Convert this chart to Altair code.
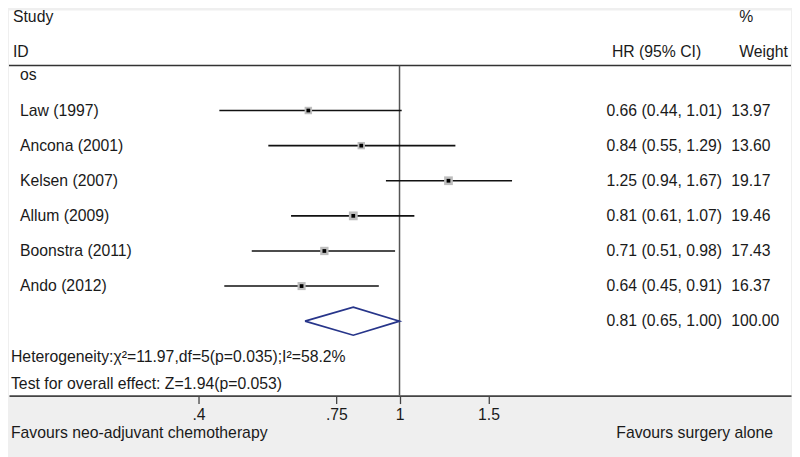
import altair as alt
import pandas as pd

# ---------------- data ----------------
studies = ["Law (1997)", "Ancona (2001)", "Kelsen (2007)", "Allum (2009)",
           "Boonstra (2011)", "Ando (2012)"]
hr = [0.66, 0.84, 1.25, 0.81, 0.71, 0.64]
ci_low = [0.44, 0.55, 0.94, 0.61, 0.51, 0.45]
ci_high = [1.01, 1.29, 1.67, 1.07, 0.98, 0.91]
weights = [13.97, 13.60, 19.17, 19.46, 17.43, 16.37]

group_label = "os"
overall_hr = 0.81
overall_low = 0.65
overall_high = 1.00
overall_weight = 100.00

heterogeneity_text = "Heterogeneity:\u03c7\u00b2=11.97,df=5(p=0.035);I\u00b2=58.2%"
overall_effect_text = "Test for overall effect: Z=1.94(p=0.053)"
left_favours = "Favours neo-adjuvant chemotherapy"
right_favours = "Favours surgery alone"

tick_values = [0.4, 0.75, 1, 1.5]
tick_labels = [".4", ".75", "1", "1.5"]
null_value = [1.0]

# ---------------- tables ----------------
study_df = pd.DataFrame({
    "study": studies, "hr": hr, "lo": ci_low, "hi": ci_high, "weight": weights,
})
study_df["row"] = range(1, len(studies) + 1)

label_df = pd.DataFrame({"label": [group_label] + studies,
                         "row": range(0, len(studies) + 1)})

overall_row = len(studies) + 1
hr_text_df = pd.DataFrame({
    "hrtext": [f"{h:.2f} ({l:.2f}, {u:.2f})" for h, l, u in zip(hr, ci_low, ci_high)]
              + [f"{overall_hr:.2f} ({overall_low:.2f}, {overall_high:.2f})"],
    "wtext": [f"{w:.2f}" for w in weights] + [f"{overall_weight:.2f}"],
    "row": list(range(1, len(studies) + 1)) + [overall_row],
})

half = 0.4
diamond_df = pd.DataFrame({
    "x": [overall_low, overall_hr, overall_high, overall_hr, overall_low],
    "row": [overall_row, overall_row - half, overall_row, overall_row + half, overall_row],
    "order": [0, 1, 2, 3, 4],
})
null_df = pd.DataFrame({"x": null_value})

# ---------------- scales ----------------
W, H = 784, 386
FONT = "Liberation Sans"
FS = 15.8
TXT = "#1a1a1a"

xscale = alt.Scale(type="log", domain=[0.1687, 5.954], nice=False)
yscale = alt.Scale(domain=[-1.8466, 9.119], reverse=True, nice=False, zero=False)

label_expr = " : ".join(
    f"datum.value == {v} ? '{t}'" for v, t in zip(tick_values[:-1], tick_labels[:-1])
) + f" : '{tick_labels[-1]}'"

xaxis = alt.Axis(values=tick_values, labelExpr=label_expr, grid=False,
                 domainColor="#444", domainWidth=1.6, tickColor="#444",
                 tickSize=8, tickWidth=1.3, labelFontSize=FS, labelFont=FONT,
                 labelColor=TXT, labelPadding=4, labelFlush=False)


def X(field):
    return alt.X(field, type="quantitative", scale=xscale, axis=xaxis, title=None)


def Y(field):
    return alt.Y(field, type="quantitative", scale=yscale, axis=None)


# ---------------- layers ----------------
base_rule_df = pd.DataFrame({"k": [0]})

top_rule = alt.Chart(base_rule_df).mark_rule(color="#333", strokeWidth=1.6).encode(
    x=alt.value(0), x2=alt.value(W), y=alt.value(55))

null_line = alt.Chart(null_df).mark_rule(color="#555", strokeWidth=1.5).encode(
    x=X("x"), y=alt.value(55), y2=alt.value(H))

ci = alt.Chart(study_df).mark_rule(color="#111", strokeWidth=1.6).encode(
    x=X("lo"), x2="hi", y=Y("row"))

boxes = alt.Chart(study_df).mark_square(color="#bdbdbd", opacity=1).encode(
    x=X("hr"), y=Y("row"),
    size=alt.Size("weight:Q", scale=alt.Scale(domain=[0, 20], range=[0, 80]), legend=None))

points = alt.Chart(study_df).mark_square(color="#000", size=14, opacity=1).encode(
    x=X("hr"), y=Y("row"))

diamond = alt.Chart(diamond_df).mark_line(color="#27358a", strokeWidth=1.7).encode(
    x=X("x"), y=Y("row"), order="order:Q")

labels = alt.Chart(label_df).mark_text(align="left", baseline="middle", font=FONT,
                                       fontSize=FS, color=TXT).encode(
    x=alt.value(11), y=Y("row"), text="label:N")

hr_texts = alt.Chart(hr_text_df).mark_text(align="left", baseline="middle", font=FONT,
                                           fontSize=FS, color=TXT).encode(
    x=alt.value(599), y=Y("row"), text="hrtext:N")

w_texts = alt.Chart(hr_text_df).mark_text(align="left", baseline="middle", font=FONT,
                                          fontSize=FS, color=TXT).encode(
    x=alt.value(724), y=Y("row"), text="wtext:N")


def fixed_text(text, x, y, align="left"):
    return alt.Chart(pd.DataFrame({"t": [text]})).mark_text(
        align=align, baseline="middle", font=FONT, fontSize=FS, color=TXT).encode(
        x=alt.value(x), y=alt.value(y), text="t:N")


headers = [
    fixed_text("Study", 4, 6),
    fixed_text("ID", 4, 42),
    fixed_text("%", 732, 6),
    fixed_text("HR (95% CI)", 694, 42, align="right"),
    fixed_text("Weight", 732, 42),
    fixed_text(heterogeneity_text, 2, 347),
    fixed_text(overall_effect_text, 2, 374),
    fixed_text(left_favours, 2, 424),
    fixed_text(right_favours, 766, 424, align="right"),
]

chart = alt.layer(
    top_rule, null_line, ci, boxes, points, diamond, labels, hr_texts, w_texts, *headers
).properties(
    width=W, height=H,
    padding={"left": 0, "top": 0, "right": 0, "bottom": 17},
    background="#efefef",
).configure_view(fill="white", strokeWidth=0)

chart.save("out.html", embed_options={"renderer": "svg", "actions": False})
